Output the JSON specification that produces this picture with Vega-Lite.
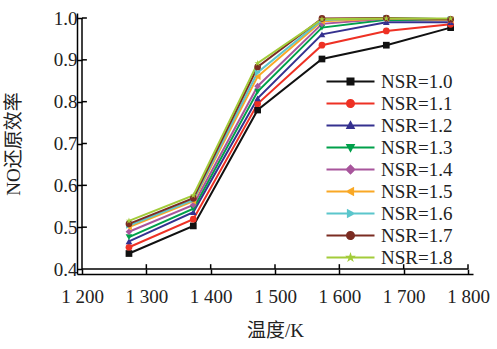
{
  "$schema": "https://vega.github.io/schema/vega-lite/v6.json",
  "width": 396,
  "height": 261,
  "autosize": "none",
  "padding": {"left": 77, "top": 13, "right": 24, "bottom": 75},
  "background": "white",
  "config": {
    "view": {"stroke": null},
    "font": "Liberation Serif",
    "axis": {
      "grid": false,
      "domainColor": "#000",
      "domainWidth": 1.5,
      "tickColor": "#000",
      "tickWidth": 1.5,
      "tickSize": -5,
      "labelFont": "Liberation Serif",
      "labelFontSize": 19,
      "labelColor": "#222",
      "titleFont": "Liberation Serif, Noto Sans CJK SC",
      "titleFontSize": 19,
      "titleFontWeight": "normal",
      "titleColor": "#222"
    },
    "legend": {
      "labelFont": "Liberation Serif",
      "labelFontSize": 19,
      "labelColor": "#222"
    }
  },
  "data": {
    "values": [
      {"T": 1273, "E": 0.437, "NSR": "NSR=1.0"}, {"T": 1373, "E": 0.503, "NSR": "NSR=1.0"}, {"T": 1473, "E": 0.780, "NSR": "NSR=1.0"}, {"T": 1573, "E": 0.902, "NSR": "NSR=1.0"}, {"T": 1673, "E": 0.935, "NSR": "NSR=1.0"}, {"T": 1773, "E": 0.977, "NSR": "NSR=1.0"},
      {"T": 1273, "E": 0.452, "NSR": "NSR=1.1"}, {"T": 1373, "E": 0.519, "NSR": "NSR=1.1"}, {"T": 1473, "E": 0.795, "NSR": "NSR=1.1"}, {"T": 1573, "E": 0.935, "NSR": "NSR=1.1"}, {"T": 1673, "E": 0.969, "NSR": "NSR=1.1"}, {"T": 1773, "E": 0.985, "NSR": "NSR=1.1"},
      {"T": 1273, "E": 0.466, "NSR": "NSR=1.2"}, {"T": 1373, "E": 0.536, "NSR": "NSR=1.2"}, {"T": 1473, "E": 0.808, "NSR": "NSR=1.2"}, {"T": 1573, "E": 0.961, "NSR": "NSR=1.2"}, {"T": 1673, "E": 0.990, "NSR": "NSR=1.2"}, {"T": 1773, "E": 0.990, "NSR": "NSR=1.2"},
      {"T": 1273, "E": 0.476, "NSR": "NSR=1.3"}, {"T": 1373, "E": 0.544, "NSR": "NSR=1.3"}, {"T": 1473, "E": 0.824, "NSR": "NSR=1.3"}, {"T": 1573, "E": 0.977, "NSR": "NSR=1.3"}, {"T": 1673, "E": 0.996, "NSR": "NSR=1.3"}, {"T": 1773, "E": 0.995, "NSR": "NSR=1.3"},
      {"T": 1273, "E": 0.489, "NSR": "NSR=1.4"}, {"T": 1373, "E": 0.553, "NSR": "NSR=1.4"}, {"T": 1473, "E": 0.837, "NSR": "NSR=1.4"}, {"T": 1573, "E": 0.986, "NSR": "NSR=1.4"}, {"T": 1673, "E": 0.998, "NSR": "NSR=1.4"}, {"T": 1773, "E": 0.995, "NSR": "NSR=1.4"},
      {"T": 1273, "E": 0.500, "NSR": "NSR=1.5"}, {"T": 1373, "E": 0.562, "NSR": "NSR=1.5"}, {"T": 1473, "E": 0.860, "NSR": "NSR=1.5"}, {"T": 1573, "E": 0.992, "NSR": "NSR=1.5"}, {"T": 1673, "E": 0.999, "NSR": "NSR=1.5"}, {"T": 1773, "E": 0.996, "NSR": "NSR=1.5"},
      {"T": 1273, "E": 0.504, "NSR": "NSR=1.6"}, {"T": 1373, "E": 0.565, "NSR": "NSR=1.6"}, {"T": 1473, "E": 0.870, "NSR": "NSR=1.6"}, {"T": 1573, "E": 0.995, "NSR": "NSR=1.6"}, {"T": 1673, "E": 1.000, "NSR": "NSR=1.6"}, {"T": 1773, "E": 0.997, "NSR": "NSR=1.6"},
      {"T": 1273, "E": 0.508, "NSR": "NSR=1.7"}, {"T": 1373, "E": 0.569, "NSR": "NSR=1.7"}, {"T": 1473, "E": 0.883, "NSR": "NSR=1.7"}, {"T": 1573, "E": 0.999, "NSR": "NSR=1.7"}, {"T": 1673, "E": 1.000, "NSR": "NSR=1.7"}, {"T": 1773, "E": 0.997, "NSR": "NSR=1.7"},
      {"T": 1273, "E": 0.515, "NSR": "NSR=1.8"}, {"T": 1373, "E": 0.576, "NSR": "NSR=1.8"}, {"T": 1473, "E": 0.892, "NSR": "NSR=1.8"}, {"T": 1573, "E": 0.997, "NSR": "NSR=1.8"}, {"T": 1673, "E": 0.999, "NSR": "NSR=1.8"}, {"T": 1773, "E": 0.999, "NSR": "NSR=1.8"}
    ]
  },
  "layer": [
    {
      "data": {"values": [{"t": 1300}, {"t": 1400}, {"t": 1500}, {"t": 1600}, {"t": 1700}, {"t": 1800}]},
      "mark": {"type": "bar", "color": "#000", "size": 1.5},
      "encoding": {
        "x": {"field": "t", "type": "quantitative", "scale": {"domain": [1200, 1800], "nice": false, "zero": false},
          "axis": {"values": [1200, 1300, 1400, 1500, 1600, 1700, 1800], "labelExpr": "replace(format(datum.value, ','), ',', ' ')", "labelPadding": 18, "title": "温度/K", "titlePadding": 15, "labelFlush": false}},
        "y": {"datum": 0.4, "type": "quantitative", "scale": {"domain": [0.4, 1.0], "nice": false, "zero": false},
          "axis": {"values": [0.4, 0.5, 0.6, 0.7, 0.8, 0.9, 1.0], "format": ".1f", "labelPadding": 5, "title": "NO还原效率", "titlePadding": 30, "labelFlush": false}},
        "y2": {"datum": 0.4115}
      }
    },
    {
      "data": {"values": [{"v": 0.5}, {"v": 0.6}, {"v": 0.7}, {"v": 0.8}, {"v": 0.9}, {"v": 1.0}]},
      "mark": {"type": "bar", "color": "#000", "size": 1.5},
      "encoding": {
        "x": {"datum": 1200, "type": "quantitative", "scale": {"domain": [1200, 1800], "nice": false, "zero": false},
          "axis": {"values": [1200, 1300, 1400, 1500, 1600, 1700, 1800], "labelExpr": "replace(format(datum.value, ','), ',', ' ')", "labelPadding": 18, "title": "温度/K", "titlePadding": 15, "labelFlush": false}},
        "x2": {"datum": 1207.6},
        "y": {"field": "v", "type": "quantitative", "scale": {"domain": [0.4, 1.0], "nice": false, "zero": false},
          "axis": {"values": [0.4, 0.5, 0.6, 0.7, 0.8, 0.9, 1.0], "format": ".1f", "labelPadding": 5, "title": "NO还原效率", "titlePadding": 30, "labelFlush": false}}
      }
    },
    {
      "data": {"values": [{"a": "x"}]},
      "mark": {"type": "bar", "color": "#000", "size": 1.5},
      "encoding": {
        "x": {"datum": 1200, "type": "quantitative", "scale": {"domain": [1200, 1800], "nice": false, "zero": false},
          "axis": {"values": [1200, 1300, 1400, 1500, 1600, 1700, 1800], "labelExpr": "replace(format(datum.value, ','), ',', ' ')", "labelPadding": 18, "title": "温度/K", "titlePadding": 15, "labelFlush": false}},
        "x2": {"datum": 1800},
        "y": {"datum": 0.4, "type": "quantitative", "scale": {"domain": [0.4, 1.0], "nice": false, "zero": false},
          "axis": {"values": [0.4, 0.5, 0.6, 0.7, 0.8, 0.9, 1.0], "format": ".1f", "labelPadding": 5, "title": "NO还原效率", "titlePadding": 30, "labelFlush": false}}
      }
    },
    {
      "data": {"values": [{"a": "y"}]},
      "mark": {"type": "bar", "color": "#000", "size": 1.5},
      "encoding": {
        "x": {"datum": 1200, "type": "quantitative", "scale": {"domain": [1200, 1800], "nice": false, "zero": false},
          "axis": {"values": [1200, 1300, 1400, 1500, 1600, 1700, 1800], "labelExpr": "replace(format(datum.value, ','), ',', ' ')", "labelPadding": 18, "title": "温度/K", "titlePadding": 15, "labelFlush": false}},
        "y": {"datum": 0.4, "type": "quantitative", "scale": {"domain": [0.4, 1.0], "nice": false, "zero": false},
          "axis": {"values": [0.4, 0.5, 0.6, 0.7, 0.8, 0.9, 1.0], "format": ".1f", "labelPadding": 5, "title": "NO还原效率", "titlePadding": 30, "labelFlush": false}},
        "y2": {"datum": 1.0}
      }
    },
    {
      "mark": {"type": "line", "strokeWidth": 2},
      "encoding": {
        "x": {"field": "T", "type": "quantitative", "scale": {"domain": [1200, 1800], "nice": false, "zero": false},
          "axis": {"values": [1200, 1300, 1400, 1500, 1600, 1700, 1800], "labelExpr": "replace(format(datum.value, ','), ',', ' ')", "labelPadding": 18, "title": "温度/K", "titlePadding": 15, "labelFlush": false}},
        "y": {"field": "E", "type": "quantitative", "scale": {"domain": [0.4, 1.0], "nice": false, "zero": false},
          "axis": {"values": [0.4, 0.5, 0.6, 0.7, 0.8, 0.9, 1.0], "format": ".1f", "labelPadding": 5, "title": "NO还原效率", "titlePadding": 30, "labelFlush": false}},
        "color": {"field": "NSR", "type": "nominal", "legend": null, "scale": {"range": ["#111111", "#ee3124", "#35318f", "#00a04a", "#a8559c", "#f9a825", "#5bc6cc", "#7b2c22", "#a3cc3a"]}}
      }
    },
    {
      "mark": {"type": "point", "filled": true, "size": 45, "opacity": 1},
      "encoding": {
        "x": {"field": "T", "type": "quantitative", "scale": {"domain": [1200, 1800], "nice": false, "zero": false},
          "axis": {"values": [1200, 1300, 1400, 1500, 1600, 1700, 1800], "labelExpr": "replace(format(datum.value, ','), ',', ' ')", "labelPadding": 18, "title": "温度/K", "titlePadding": 15, "labelFlush": false}},
        "y": {"field": "E", "type": "quantitative", "scale": {"domain": [0.4, 1.0], "nice": false, "zero": false},
          "axis": {"values": [0.4, 0.5, 0.6, 0.7, 0.8, 0.9, 1.0], "format": ".1f", "labelPadding": 5, "title": "NO还原效率", "titlePadding": 30, "labelFlush": false}},
        "color": {"field": "NSR", "type": "nominal", "legend": null},
        "shape": {
          "field": "NSR", "type": "nominal", "legend": null,
          "scale": {"range": ["square", "circle", "triangle-up", "triangle-down", "diamond", "triangle-left", "triangle-right", "circle", "M0,-1L0.223,-0.307L0.951,-0.309L0.361,0.117L0.588,0.809L0,0.38L-0.588,0.809L-0.361,0.117L-0.951,-0.309L-0.223,-0.307Z"]}
        }
      }
    },
    {
      "mark": {"type": "point", "filled": true, "opacity": 0},
      "encoding": {
        "x": {"field": "T", "type": "quantitative", "scale": {"domain": [1200, 1800], "nice": false, "zero": false},
          "axis": {"values": [1200, 1300, 1400, 1500, 1600, 1700, 1800], "labelExpr": "replace(format(datum.value, ','), ',', ' ')", "labelPadding": 18, "title": "温度/K", "titlePadding": 15, "labelFlush": false}},
        "y": {"field": "E", "type": "quantitative", "scale": {"domain": [0.4, 1.0], "nice": false, "zero": false},
          "axis": {"values": [0.4, 0.5, 0.6, 0.7, 0.8, 0.9, 1.0], "format": ".1f", "labelPadding": 5, "title": "NO还原效率", "titlePadding": 30, "labelFlush": false}},
        "fill": {
          "field": "NSR", "type": "nominal",
          "scale": {"range": ["#111111", "#ee3124", "#35318f", "#00a04a", "#a8559c", "#f9a825", "#5bc6cc", "#7b2c22", "#a3cc3a"]},
          "legend": {"title": null, "orient": "none", "legendX": 248, "legendY": 59, "symbolSize": 256, "symbolOpacity": 1, "symbolStrokeWidth": 0, "rowPadding": 2, "labelOffset": 37}
        },
        "shape": {
          "field": "NSR", "type": "nominal",
          "legend": {"title": null, "orient": "none", "legendX": 248, "legendY": 59, "symbolSize": 256, "symbolOpacity": 1, "symbolStrokeWidth": 0, "rowPadding": 2, "labelOffset": 37},
          "scale": {"range": [
            "M-1,-0.125H5V0.125H-1ZM1.5,-0.5H2.5V0.5H1.5Z",
            "M-1,-0.125H5V0.125H-1ZM2.57,0A0.57,0.57 0 1,1 1.43,0A0.57,0.57 0 1,1 2.57,0Z",
            "M-1,-0.125H5V0.125H-1ZM2,-0.66L2.6,0.45L1.4,0.45Z",
            "M-1,-0.125H5V0.125H-1ZM1.4,-0.45L2.6,-0.45L2,0.66Z",
            "M-1,-0.125H5V0.125H-1ZM2,-0.66L2.66,0L2,0.66L1.34,0Z",
            "M-1,-0.125H5V0.125H-1ZM1.34,0L2.45,-0.6L2.45,0.6Z",
            "M-1,-0.125H5V0.125H-1ZM2.66,0L1.55,0.6L1.55,-0.6Z",
            "M-1,-0.125H5V0.125H-1ZM2.57,0A0.57,0.57 0 1,1 1.43,0A0.57,0.57 0 1,1 2.57,0Z",
            "M-1,-0.125H5V0.125H-1ZM2,-0.7L2.156,-0.215L2.666,-0.216L2.253,0.082L2.412,0.566L2,0.266L1.588,0.566L1.747,0.082L1.334,-0.216L1.844,-0.215Z"
          ]}
        }
      }
    }
  ],
  "resolve": {"scale": {"shape": "independent", "fill": "independent"}}
}
